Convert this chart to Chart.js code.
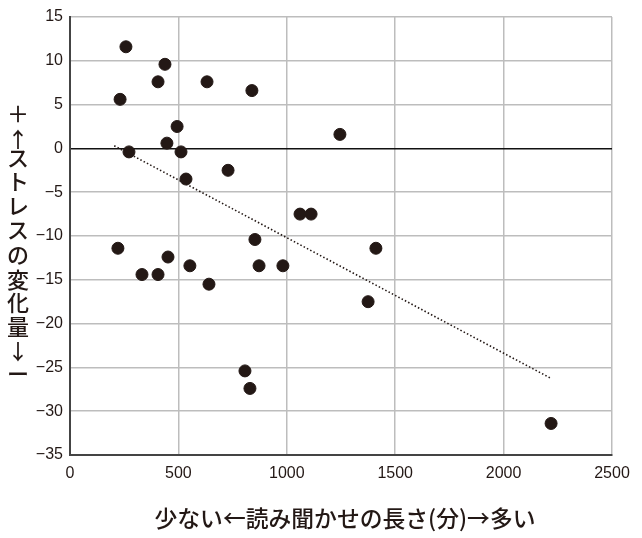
<!DOCTYPE html>
<html><head><meta charset="utf-8">
<script src="https://cdn.jsdelivr.net/npm/chart.js@4/dist/chart.umd.min.js"></script>
<style>html,body{margin:0;padding:0;background:#fff}#wrap{width:642px;height:538px}</style>
</head><body><div id="wrap"><canvas id="c"></canvas></div>
<script>
const readingMinutes = [258,231,272,221,332,406,406,438,447,452,494,512,535,553,632,641,729,839,853,872,807,830,982,1061,1112,1245,1411,1375,2219];
const stressChange   = [11.6,5.6,-0.4,-11.4,-14.4,-14.4,7.6,9.6,0.6,-12.4,2.5,-0.4,-3.5,-13.4,7.6,-15.5,-2.5,6.6,-10.4,-13.4,-25.4,-27.4,-13.4,-7.5,-7.5,1.6,-11.4,-17.5,-31.4];
const trendX = [204, 2222];
const trendY = [0.3, -26.3];
const xTitle = "少ない←読み聞かせの長さ(分)→多い";
const yTitleChars = ["＋","↑","ス","ト","レ","ス","の","変","化","量","↓","ー"];
const yTitlePos =  [114,139,158,182,206,230,255,280,303,327,351,374];

const titlePlugin = {
  id:'titles',
  afterDraw(chart){
    const ctx = chart.ctx;
    ctx.save();
    ctx.fillStyle = '#231815';
    ctx.textAlign = 'center';
    ctx.textBaseline = 'middle';
    let size = 22;
    ctx.font = '500 ' + size + 'px "Noto Sans CJK JP"';
    const w = ctx.measureText(xTitle).width;
    size = size * 381 / w;
    ctx.font = '500 ' + size.toFixed(2) + 'px "Noto Sans CJK JP"';
    ctx.fillText(xTitle, 345, 518);
    yTitleChars.forEach((ch,i)=>{
      ctx.font = (ch === '↑' || ch === '↓') ? '500 21px "Noto Sans CJK JP"' : '500 22px "Noto Sans CJK JP"';
      ctx.fillText(ch, 18, yTitlePos[i]);
    });
    ctx.restore();
  }
};

new Chart(document.getElementById('c'), {
  type:'scatter',
  data:{
    datasets:[
      {data: readingMinutes.map((x,i)=>({x, y: stressChange[i]})),
       backgroundColor:'#231815', borderColor:'#231815', pointRadius:6, pointHoverRadius:6, order:1},
      {type:'line', data: trendX.map((x,i)=>({x, y: trendY[i]})),
       borderColor:'#231815', borderWidth:1.6, borderDash:[1.5,2.2], pointRadius:0, fill:false, order:2}
    ]
  },
  plugins:[titlePlugin],
  options:{
    responsive:true, maintainAspectRatio:false, animation:false,
    layout:{padding:{top:17, right:30, left:0, bottom:0}},
    plugins:{legend:{display:false}, tooltip:{enabled:false}},
    scales:{
      x:{type:'linear', min:0, max:2500,
        ticks:{stepSize:500, color:'#231815', font:{family:'"Liberation Sans", Arial', size:16}, padding:9,
          callback:v=> String(v)},
        grid:{color:'#bdbdbd', lineWidth:1.5, drawTicks:false},
        border:{color:'#444', width:2},
        afterFit(s){ s.height = 83; }
      },
      y:{min:-35, max:15,
        ticks:{stepSize:5, color:'#231815', font:{family:'"Liberation Sans", Arial', size:16}, padding:7,
          callback:v=> String(v).replace('-','−')},
        grid:{color:c=> c.tick && c.tick.value===0 ? '#111' : '#bdbdbd', lineWidth:1.5, drawTicks:false},
        border:{color:'#444', width:2},
        afterFit(s){ s.width = 70; }
      }
    }
  }
});
</script></body></html>
